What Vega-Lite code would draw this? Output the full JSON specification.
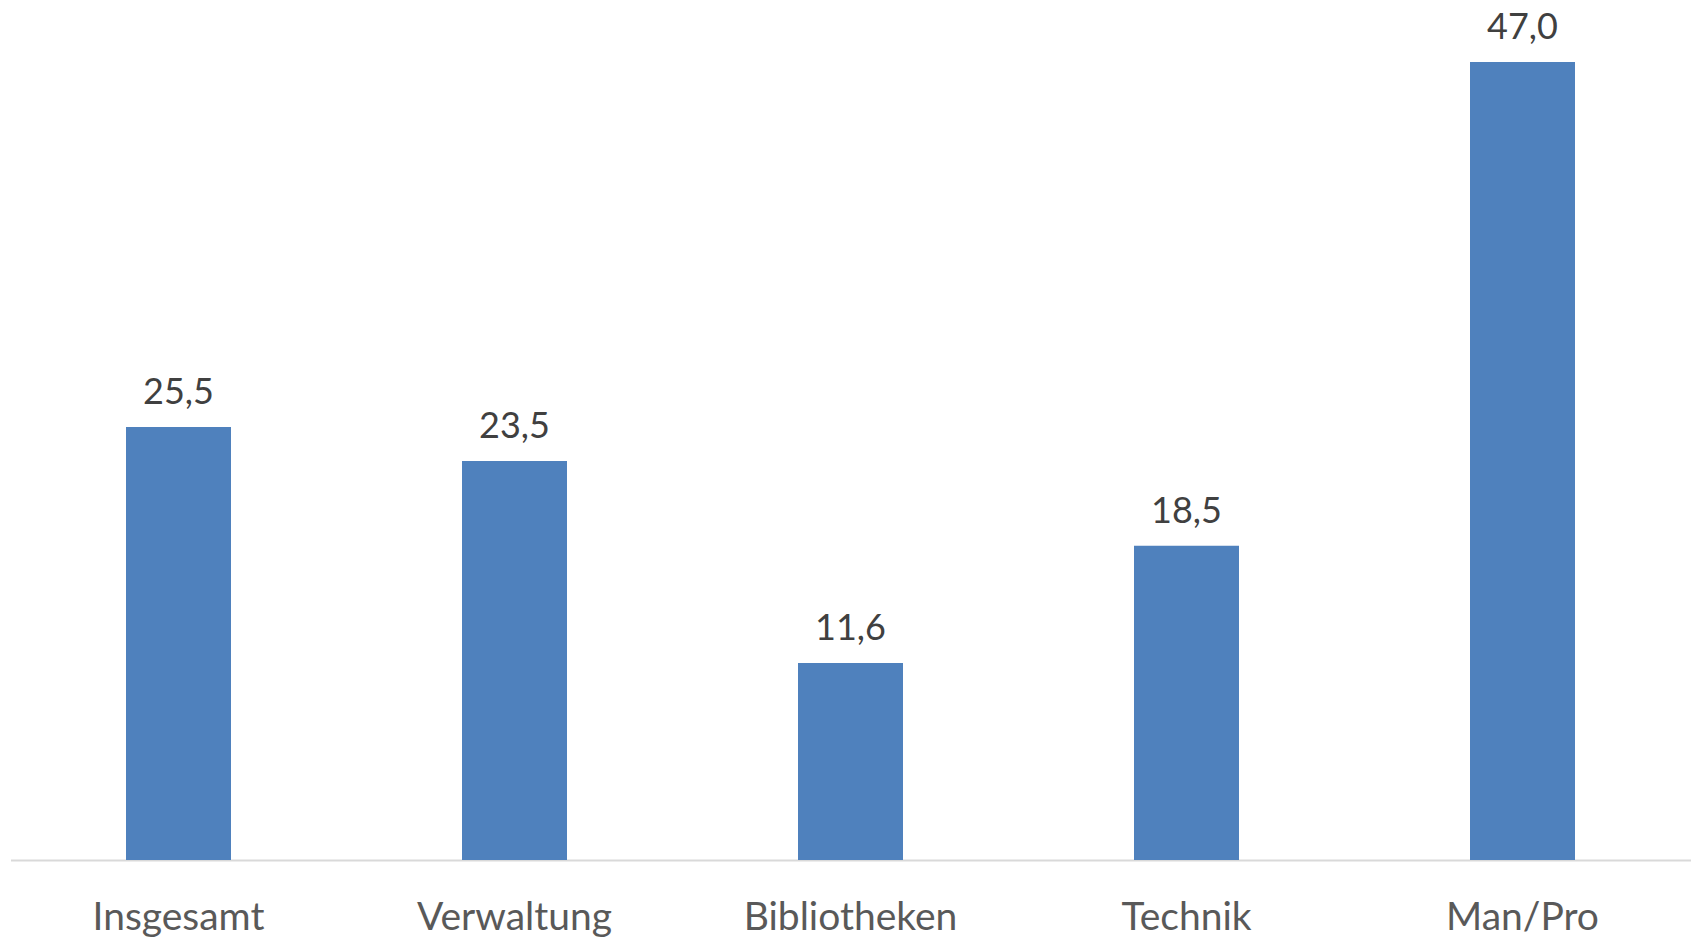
{
  "$schema": "https://vega.github.io/schema/vega-lite/v6.json",
  "autosize": {"type": "none"},
  "width": 1680,
  "height": 849,
  "padding": {"left": 10.5, "top": 11, "right": 5.5, "bottom": 78},
  "background": "white",
  "config": {
    "view": {"stroke": null},
    "font": "Lato",
    "locale": {"number": {"decimal": ",", "thousands": ".", "grouping": [3], "currency": ["", " €"]}}
  },
  "data": {
    "values": [
      {"kategorie": "Insgesamt", "wert": 25.5},
      {"kategorie": "Verwaltung", "wert": 23.5},
      {"kategorie": "Bibliotheken", "wert": 11.6},
      {"kategorie": "Technik", "wert": 18.5},
      {"kategorie": "Man/Pro", "wert": 47.0}
    ]
  },
  "encoding": {
    "x": {
      "field": "kategorie",
      "type": "nominal",
      "sort": null,
      "scale": {"paddingInner": 0.6875, "paddingOuter": 0.34375},
      "axis": {
        "title": null,
        "labelAngle": 0,
        "labelLimit": 0,
        "ticks": false,
        "tickSize": 0,
        "labelPadding": 69,
        "labelBaseline": "alphabetic",
        "labelFont": "Lato",
        "labelFontSize": 39,
        "labelColor": "#595959",
        "domainColor": "#D9D9D9",
        "domainWidth": 2
      }
    },
    "y": {
      "field": "wert",
      "type": "quantitative",
      "scale": {"domain": [0, 50], "nice": false},
      "axis": null
    }
  },
  "layer": [
    {"mark": {"type": "bar", "color": "#4F81BD"}},
    {
      "mark": {"type": "text", "baseline": "alphabetic", "dy": -23, "font": "Lato", "fontSize": 36, "color": "#404040"},
      "encoding": {"text": {"field": "wert", "type": "quantitative", "format": ".1f"}}
    }
  ]
}
